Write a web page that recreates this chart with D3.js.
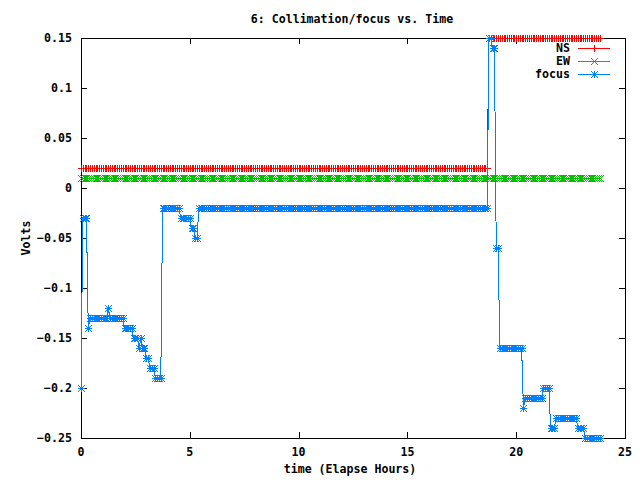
<!DOCTYPE html>
<html><head><meta charset="utf-8">
<script src="https://cdn.jsdelivr.net/npm/d3@7"></script>
<style>
html,body{margin:0;padding:0;background:#fff;}
svg text{font-family:"DejaVu Sans Mono","Liberation Mono",monospace;font-size:11.6px;font-weight:bold;fill:#000;}
</style></head>
<body>
<svg id="chart" width="640" height="480"></svg>
<script>
// ---- data ----
const title = "6: Collimation/focus vs. Time";
const xLabel = "time (Elapse Hours)";
const yLabel = "Volts";
const xTicks = [0, 5, 10, 15, 20, 25];
const yTicks = [0.15, 0.1, 0.05, 0, -0.05, -0.1, -0.15, -0.2, -0.25];
const seriesNames = ["NS", "EW", "focus"];
const sampleStepHours = 1 / 12;      // one reading every 5 minutes
const sampleCount = 287;
// run-length encoded readings: [value, number of consecutive samples]
const nsRuns = [[0.02, 225], [0.15, 62]];
const ewRuns = [[0.01, 287]];
const focusRuns = [
  [-0.2, 1], [-0.03, 3], [-0.14, 1], [-0.13, 10], [-0.12, 1], [-0.13, 8],
  [-0.14, 5], [-0.15, 3], [-0.16, 1], [-0.15, 1], [-0.16, 2], [-0.17, 2],
  [-0.18, 3], [-0.19, 4], [-0.02, 10], [-0.03, 6], [-0.04, 2], [-0.05, 2],
  [-0.02, 160], [0.15, 2], [0.14, 2], [-0.06, 2], [-0.16, 13], [-0.22, 1],
  [-0.21, 10], [-0.2, 4], [-0.24, 3], [-0.23, 12], [-0.24, 4], [-0.25, 9]
];

function expand(runs) {
  const out = [];
  runs.forEach(([v, n]) => { for (let k = 0; k < n; k++) out.push(v); });
  return out.map((v, i) => ({ t: i * sampleStepHours, v }));
}
const series = [
  { name: seriesNames[0], color: "#ff0000", marker: "plus", data: expand(nsRuns) },
  { name: seriesNames[1], color: "#00c000", marker: "cross", data: expand(ewRuns) },
  { name: seriesNames[2], color: "#0080ff", marker: "star", data: expand(focusRuns) }
];

// ---- layout ----
const svg = d3.select("#chart");
const L = 81, R = 625, T = 38, B = 438;
const x = d3.scaleLinear().domain([0, 25]).range([L, R]);
const y = d3.scaleLinear().domain([-0.25, 0.15]).range([B, T]);

const g = svg.append("g").attr("shape-rendering", "crispEdges");

// axes with inward ticks (gnuplot style, mirrored)
const tickLen = 6;
const fmt = d => (d === 0 ? "0" : d3.format("")(+d.toFixed(2)));
const axB = g.append("g").attr("transform", `translate(0,${B})`)
  .call(d3.axisTop(x).tickValues(xTicks).tickSize(tickLen).tickFormat(""));
const axT = g.append("g").attr("transform", `translate(0,${T})`)
  .call(d3.axisBottom(x).tickValues(xTicks).tickSize(tickLen).tickFormat(""));
const axL = g.append("g").attr("transform", `translate(${L},0)`)
  .call(d3.axisRight(y).tickValues(yTicks).tickSize(tickLen).tickFormat(""));
const axR = g.append("g").attr("transform", `translate(${R},0)`)
  .call(d3.axisLeft(y).tickValues(yTicks).tickSize(tickLen).tickFormat(""));
[axB, axT, axL, axR].forEach(a => {
  a.select(".domain").remove();
  a.selectAll("line").attr("stroke", "#000");
});
g.append("rect").attr("x", L + 0.5).attr("y", T + 0.5)
  .attr("width", R - L).attr("height", B - T)
  .attr("fill", "none").attr("stroke", "#000");

// tick labels
svg.append("g").selectAll("text").data(xTicks).join("text")
  .attr("x", d => x(d)).attr("y", 452).attr("text-anchor", "middle")
  .attr("dominant-baseline", "middle").text(d => d);
svg.append("g").selectAll("text").data(yTicks).join("text")
  .attr("x", 72).attr("y", d => y(d)).attr("text-anchor", "end")
  .attr("dominant-baseline", "middle").text(fmt);

svg.append("text").attr("x", 352).attr("y", 19).attr("text-anchor", "middle")
  .attr("dominant-baseline", "middle").text(title);
svg.append("text").attr("x", 350).attr("y", 469).attr("text-anchor", "middle")
  .attr("dominant-baseline", "middle").text(xLabel);
svg.append("text").attr("transform", `translate(26,${(T + B) / 2}) rotate(-90)`)
  .attr("text-anchor", "middle").attr("dominant-baseline", "middle").text(yLabel);

// markers
const s = 3.5;
function markerPath(type, cx, cy) {
  const plus = `M${cx - s},${cy}H${cx + s}M${cx},${cy - s}V${cy + s}`;
  const cross = `M${cx - s},${cy - s}L${cx + s},${cy + s}M${cx - s},${cy + s}L${cx + s},${cy - s}`;
  if (type === "plus") return plus;
  if (type === "cross") return cross;
  return plus + cross;
}

const line = d3.line().x(d => x(d.t)).y(d => y(d.v));
series.forEach(sr => {
  const sg = g.append("g");
  sg.append("path").datum(sr.data).attr("d", line)
    .attr("fill", "none").attr("stroke", sr.color).attr("stroke-width", 1);
  sg.append("path")
    .attr("d", sr.data.map(d => markerPath(sr.marker, Math.round(x(d.t)) + 0.5, Math.round(y(d.v)) + 0.5)).join(""))
    .attr("fill", "none").attr("stroke", sr.color).attr("stroke-width", 1);
});

// legend
const legRows = [48, 61, 74];
series.forEach((sr, i) => {
  const ly = legRows[i] + 0.5;
  svg.append("text").attr("x", 570).attr("y", legRows[i]).attr("text-anchor", "end")
    .attr("dominant-baseline", "middle").text(sr.name);
  g.append("line").attr("x1", 578).attr("x2", 610).attr("y1", ly).attr("y2", ly)
    .attr("stroke", sr.color);
  g.append("path").attr("d", markerPath(sr.marker, 594.5, ly))
    .attr("fill", "none").attr("stroke", sr.color);
});
</script>
</body></html>
